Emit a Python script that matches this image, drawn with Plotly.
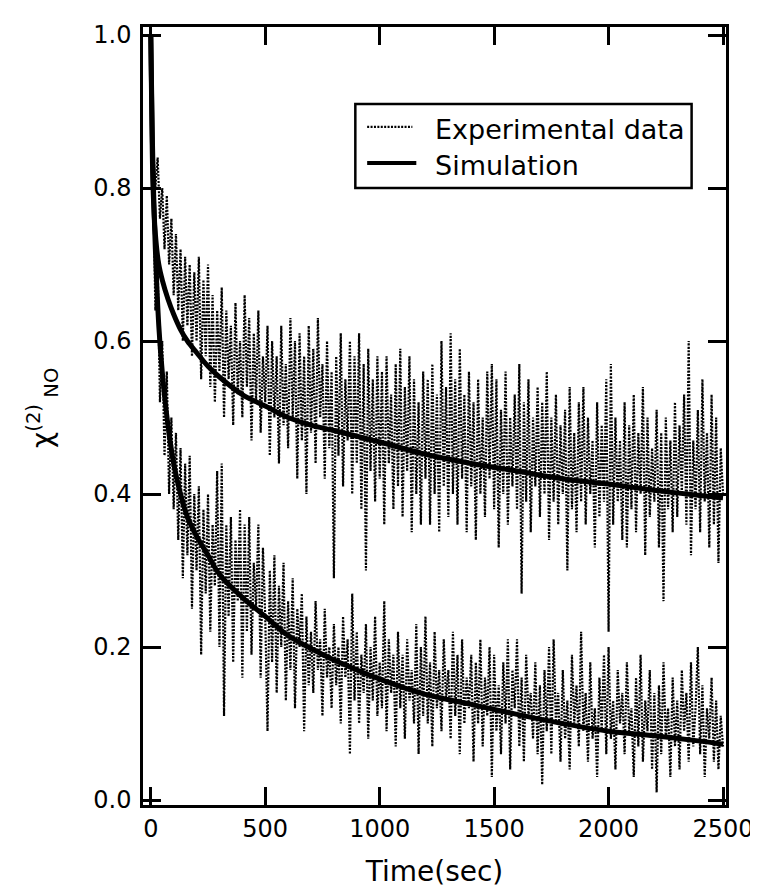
import plotly.graph_objects as go

# sampling grid of the measurement (one reading every 10 s)
time_exp = list(range(0, 2510, 10))

# upper run, experimental (10 s steps)
upper_exp = [
    1.00, 0.86, 0.80, 0.84, 0.76, 0.80, 0.72, 0.79, 0.70, 0.76,
    0.66, 0.74, 0.64, 0.72, 0.60, 0.71, 0.62, 0.70, 0.58, 0.69,
    0.60, 0.71, 0.55, 0.68, 0.58, 0.70, 0.54, 0.66, 0.52, 0.64,
    0.56, 0.67, 0.50, 0.64, 0.55, 0.62, 0.49, 0.65, 0.53, 0.60,
    0.50, 0.66, 0.54, 0.63, 0.47, 0.61, 0.52, 0.64, 0.48, 0.58,
    0.52, 0.62, 0.45, 0.60, 0.50, 0.58, 0.44, 0.62, 0.49, 0.57,
    0.46, 0.63, 0.50, 0.60, 0.42, 0.61, 0.47, 0.58, 0.40, 0.62,
    0.48, 0.59, 0.44, 0.63, 0.50, 0.57, 0.42, 0.60, 0.46, 0.56,
    0.29, 0.58, 0.45, 0.61, 0.41, 0.55, 0.47, 0.60, 0.40, 0.58,
    0.44, 0.61, 0.38, 0.57, 0.30, 0.59, 0.43, 0.55, 0.39, 0.58,
    0.42, 0.56, 0.36, 0.58, 0.44, 0.53, 0.38, 0.57, 0.41, 0.59,
    0.37, 0.54, 0.43, 0.58, 0.35, 0.55, 0.40, 0.52, 0.36, 0.56,
    0.42, 0.55, 0.36, 0.57, 0.40, 0.53, 0.35, 0.60, 0.41, 0.54,
    0.37, 0.61, 0.40, 0.55, 0.36, 0.59, 0.42, 0.53, 0.35, 0.56,
    0.41, 0.52, 0.34, 0.55, 0.40, 0.50, 0.37, 0.56, 0.42, 0.57,
    0.38, 0.55, 0.33, 0.51, 0.40, 0.56, 0.36, 0.50, 0.41, 0.53,
    0.38, 0.57, 0.27, 0.52, 0.39, 0.55, 0.35, 0.50, 0.41, 0.54,
    0.37, 0.52, 0.40, 0.56, 0.34, 0.50, 0.39, 0.53, 0.36, 0.49,
    0.40, 0.51, 0.30, 0.54, 0.38, 0.48, 0.35, 0.52, 0.39, 0.54,
    0.36, 0.50, 0.40, 0.47, 0.33, 0.52, 0.37, 0.49, 0.39, 0.55,
    0.22, 0.57, 0.36, 0.50, 0.39, 0.47, 0.34, 0.52, 0.33, 0.49,
    0.38, 0.53, 0.35, 0.48, 0.40, 0.54, 0.32, 0.50, 0.37, 0.46,
    0.39, 0.51, 0.33, 0.48, 0.26, 0.50, 0.38, 0.47, 0.35, 0.52,
    0.37, 0.49, 0.40, 0.53, 0.36, 0.60, 0.32, 0.47, 0.38, 0.51,
    0.35, 0.55, 0.39, 0.48, 0.33, 0.53, 0.36, 0.50, 0.31, 0.46,
    0.40,
]

# lower run, experimental
lower_exp = [
    1.00, 0.80, 0.64, 0.70, 0.52, 0.60, 0.45, 0.56, 0.40, 0.50,
    0.38, 0.48, 0.34, 0.46, 0.29, 0.44, 0.32, 0.45, 0.25, 0.40,
    0.30, 0.41, 0.19, 0.38, 0.27, 0.40, 0.22, 0.36, 0.28, 0.43,
    0.20, 0.44, 0.11, 0.36, 0.24, 0.37, 0.18, 0.34, 0.26, 0.38,
    0.16, 0.36, 0.22, 0.37, 0.19, 0.31, 0.25, 0.36, 0.16, 0.33,
    0.24, 0.09, 0.30, 0.18, 0.32, 0.14, 0.28, 0.20, 0.31, 0.13,
    0.26, 0.17, 0.29, 0.12, 0.25, 0.20, 0.27, 0.09, 0.24, 0.15,
    0.22, 0.14, 0.26, 0.17, 0.21, 0.11, 0.25, 0.16, 0.20, 0.12,
    0.23, 0.15, 0.20, 0.10, 0.24, 0.16, 0.21, 0.06, 0.27, 0.13,
    0.22, 0.10, 0.19, 0.14, 0.23, 0.08, 0.20, 0.13, 0.24, 0.11,
    0.18, 0.12, 0.26, 0.09, 0.21, 0.14, 0.19, 0.07, 0.22, 0.12,
    0.19, 0.08, 0.21, 0.13, 0.17, 0.10, 0.23, 0.06, 0.20, 0.11,
    0.24, 0.10, 0.18, 0.07, 0.22, 0.12, 0.17, 0.09, 0.21, 0.13,
    0.17, 0.08, 0.22, 0.11, 0.19, 0.06, 0.21, 0.10, 0.16, 0.12,
    0.19, 0.05, 0.18, 0.10, 0.21, 0.07, 0.16, 0.11, 0.20, 0.03,
    0.19, 0.09, 0.15, 0.06, 0.18, 0.10, 0.21, 0.04, 0.17, 0.12,
    0.21, 0.07, 0.16, 0.05, 0.19, 0.11, 0.14, 0.08, 0.18, 0.06,
    0.15, 0.02, 0.17, 0.09, 0.20, 0.06, 0.21, 0.10, 0.14, 0.05,
    0.17, 0.08, 0.13, 0.04, 0.19, 0.10, 0.15, 0.07, 0.22, 0.09,
    0.14, 0.05, 0.18, 0.08, 0.12, 0.03, 0.16, 0.09, 0.19, 0.06,
    0.20, 0.08, 0.13, 0.04, 0.17, 0.10, 0.14, 0.06, 0.18, 0.09,
    0.12, 0.03, 0.16, 0.07, 0.19, 0.05, 0.13, 0.09, 0.17, 0.04,
    0.14, 0.01, 0.15, 0.06, 0.18, 0.08, 0.12, 0.03, 0.16, 0.07,
    0.13, 0.04, 0.17, 0.09, 0.14, 0.05, 0.18, 0.07, 0.12, 0.20,
    0.06, 0.15, 0.03, 0.12, 0.08, 0.16, 0.05, 0.13, 0.04, 0.11,
    0.07,
]

# simulation curves
time_sim = [0, 5, 10, 20, 35, 50, 75, 100, 130, 160, 200, 250, 300, 400, 500,
            600, 700, 800, 1000, 1200, 1400, 1600, 1800, 2000, 2200, 2400, 2500]
upper_sim = [1.0, 0.88, 0.80, 0.74, 0.70, 0.68, 0.655, 0.635, 0.615, 0.60, 0.585,
             0.567, 0.553, 0.53, 0.515, 0.50, 0.49, 0.483, 0.468, 0.452, 0.44,
             0.43, 0.42, 0.413, 0.405, 0.398, 0.395]
lower_sim = [1.0, 0.90, 0.82, 0.72, 0.62, 0.56, 0.49, 0.44, 0.40, 0.37, 0.345,
             0.32, 0.295, 0.265, 0.24, 0.215, 0.198, 0.183, 0.158, 0.138, 0.125,
             0.112, 0.10, 0.09, 0.084, 0.077, 0.073]

x_ticks = [0, 500, 1000, 1500, 2000, 2500]
y_ticks = [0.0, 0.2, 0.4, 0.6, 0.8, 1.0]

FONT = "DejaVu Sans"
DOTS = "2px,1.4px"

fig = go.Figure()
for ys in (upper_exp, lower_exp):
    fig.add_trace(go.Scatter(x=time_exp, y=ys, mode="lines", showlegend=False,
                             line=dict(color="black", width=2.2, dash=DOTS)))
for ys in (upper_sim, lower_sim):
    fig.add_trace(go.Scatter(x=time_sim, y=ys, mode="lines", showlegend=False,
                             line=dict(color="black", width=5, shape="spline")))

axis_style = dict(showline=True, linecolor="black", linewidth=2.5, mirror="allticks",
                  ticks="inside", ticklen=18, tickwidth=2.5, tickcolor="black",
                  showgrid=False, zeroline=False,
                  tickfont=dict(family=FONT, size=24, color="black"))

fig.update_xaxes(range=[-34, 2513], tickvals=x_ticks,
                 title=dict(text="Time(sec)", font=dict(family=FONT, size=28, color="black"),
                            standoff=20),
                 **axis_style)
fig.update_yaxes(range=[-0.0065, 1.0105], tickvals=y_ticks, tickformat=".1f",
                 ticklabelstandoff=4, **axis_style)

# y title: chi with (2) superscript and NO subscript
fig.add_annotation(xref="paper", yref="paper", x=-0.172, y=0.51, xanchor="center", yanchor="middle",
                   showarrow=False, textangle=-90, text="χ<sup>(2)</sup><sub> NO</sub>",
                   font=dict(family=FONT, size=28, color="black"))

# legend drawn by hand (box, two samples, two labels)
fig.add_shape(type="rect", xref="paper", yref="paper", x0=0.3642, x1=0.941, y0=0.793, y1=0.901,
              line=dict(color="black", width=2.5), fillcolor="white")
fig.add_shape(type="line", xref="paper", yref="paper", x0=0.3845, x1=0.462, y0=0.8715, y1=0.8715,
              line=dict(color="black", width=2.2, dash=DOTS))
fig.add_shape(type="line", xref="paper", yref="paper", x0=0.3845, x1=0.4688, y0=0.8252, y1=0.8252,
              line=dict(color="black", width=4))
fig.add_annotation(xref="paper", yref="paper", x=0.4975, y=0.868, xanchor="left", yanchor="middle",
                   showarrow=False, text="Experimental data",
                   font=dict(family=FONT, size=27, color="black"))
fig.add_annotation(xref="paper", yref="paper", x=0.4975, y=0.822, xanchor="left", yanchor="middle",
                   showarrow=False, text="Simulation",
                   font=dict(family=FONT, size=27, color="black"))

fig.update_layout(width=758, height=893, plot_bgcolor="white", paper_bgcolor="white",
                  margin=dict(l=135, r=30, t=19, b=96))

fig.write_html("out.html")
